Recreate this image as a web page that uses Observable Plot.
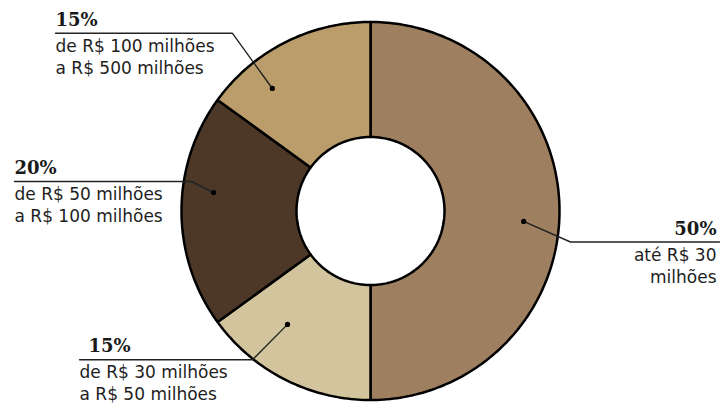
<!DOCTYPE html>
<html><head><meta charset="utf-8">
<script src="https://cdn.jsdelivr.net/npm/d3@7"></script>
<script src="https://cdn.jsdelivr.net/npm/@observablehq/plot@0.6"></script>
<style>body{margin:0;background:#fff}</style>
</head><body><div id="chart"></div>
<script>
// Data
const categories = ["até R$ 30 milhões", "de R$ 30 milhões a R$ 50 milhões", "de R$ 50 milhões a R$ 100 milhões", "de R$ 100 milhões a R$ 500 milhões"];
const shares = [50, 15, 20, 15];
const pctLabels = ["50%", "15%", "20%", "15%"];
const textLines = [["até R$ 30", "milhões"], ["de R$ 30 milhões", "a R$ 50 milhões"], ["de R$ 50 milhões", "a R$ 100 milhões"], ["de R$ 100 milhões", "a R$ 500 milhões"]];
const colors = ["#9e7f5f", "#d2c49c", "#4d3828", "#bb9d6c"];

// Layout (pixel coordinates on identity-like scales)
const cx = 370, cy = 210.5, R = 189, r0 = 74;
const labelLayout = [
  {dotA: 93.9, dotR: 153.5, elbow: [570, 241.5], end: [719, 241.5], tx: 716, anchor: "end", pctX: 716},
  {dotA: 216.2, dotR: 140.5, elbow: [252, 359.3], end: [79, 359.3], tx: 79, anchor: "start", pctX: 88},
  {dotA: 276.7, dotR: 158, elbow: [191, 181], end: [14, 181], tx: 14, anchor: "start", pctX: 14},
  {dotA: 321.3, dotR: 157, elbow: [232, 32.8], end: [55, 32.8], tx: 55, anchor: "start", pctX: 55}
];

const total = d3.sum(shares);
const pt = (a, rad) => [cx + rad * Math.sin(a * Math.PI / 180), cy - rad * Math.cos(a * Math.PI / 180)];

const slicePts = [];
let acc = 0;
shares.forEach((v, i) => {
  const a0 = acc / total * 360, a1 = (acc + v) / total * 360;
  acc += v;
  const n = Math.max(8, Math.ceil(a1 - a0));
  for (let k = 0; k <= n; k++) { const [x, y] = pt(a0 + (a1 - a0) * k / n, R); slicePts.push({k: categories[i], x, y, c: colors[i]}); }
  for (let k = n; k >= 0; k--) { const [x, y] = pt(a0 + (a1 - a0) * k / n, r0); slicePts.push({k: categories[i], x, y, c: colors[i]}); }
});

const leaderPts = [], dots = [], texts = [];
labelLayout.forEach((L, i) => {
  const [dx, dy] = pt(L.dotA, L.dotR);
  dots.push({x: dx, y: dy});
  [[dx, dy], L.elbow, L.end].forEach(([x, y]) => leaderPts.push({k: i, x, y}));
  const ry = L.end[1];
  texts.push({x: L.pctX, y: ry - 7.5, t: pctLabels[i], a: L.anchor, pct: true});
  texts.push({x: L.tx, y: ry + 18.5, t: textLines[i][0], a: L.anchor, pct: false});
  texts.push({x: L.tx, y: ry + 40.5, t: textLines[i][1], a: L.anchor, pct: false});
});

const textMarks = [];
for (const anchor of ["start", "end"]) {
  textMarks.push(Plot.text(texts.filter(d => d.pct && d.a === anchor), {x: "x", y: "y", text: "t", textAnchor: anchor, lineAnchor: "bottom", fontFamily: "DejaVu Serif", fontWeight: "bold", fontSize: 18, fill: "#1a1a1a"}));
  textMarks.push(Plot.text(texts.filter(d => !d.pct && d.a === anchor), {x: "x", y: "y", text: "t", textAnchor: anchor, lineAnchor: "bottom", fontFamily: "DejaVu Sans", fontSize: 17, fill: "#1e1e1e"}));
}

const chart = Plot.plot({
  width: 728, height: 407, margin: 0,
  x: {domain: [0, 728], range: [0, 728], axis: null},
  y: {domain: [0, 407], range: [0, 407], axis: null},
  marks: [
    Plot.line(slicePts, {x: "x", y: "y", z: "k", fill: "c", stroke: "#000", strokeWidth: 2.5, curve: "linear-closed", strokeLinejoin: "miter"}),
    Plot.line(leaderPts, {x: "x", y: "y", z: "k", stroke: "#222", strokeWidth: 1.4}),
    Plot.dot(dots, {x: "x", y: "y", r: 2.6, fill: "#000", stroke: null}),
    ...textMarks
  ]
});
document.getElementById("chart").appendChild(chart);
</script></body></html>
